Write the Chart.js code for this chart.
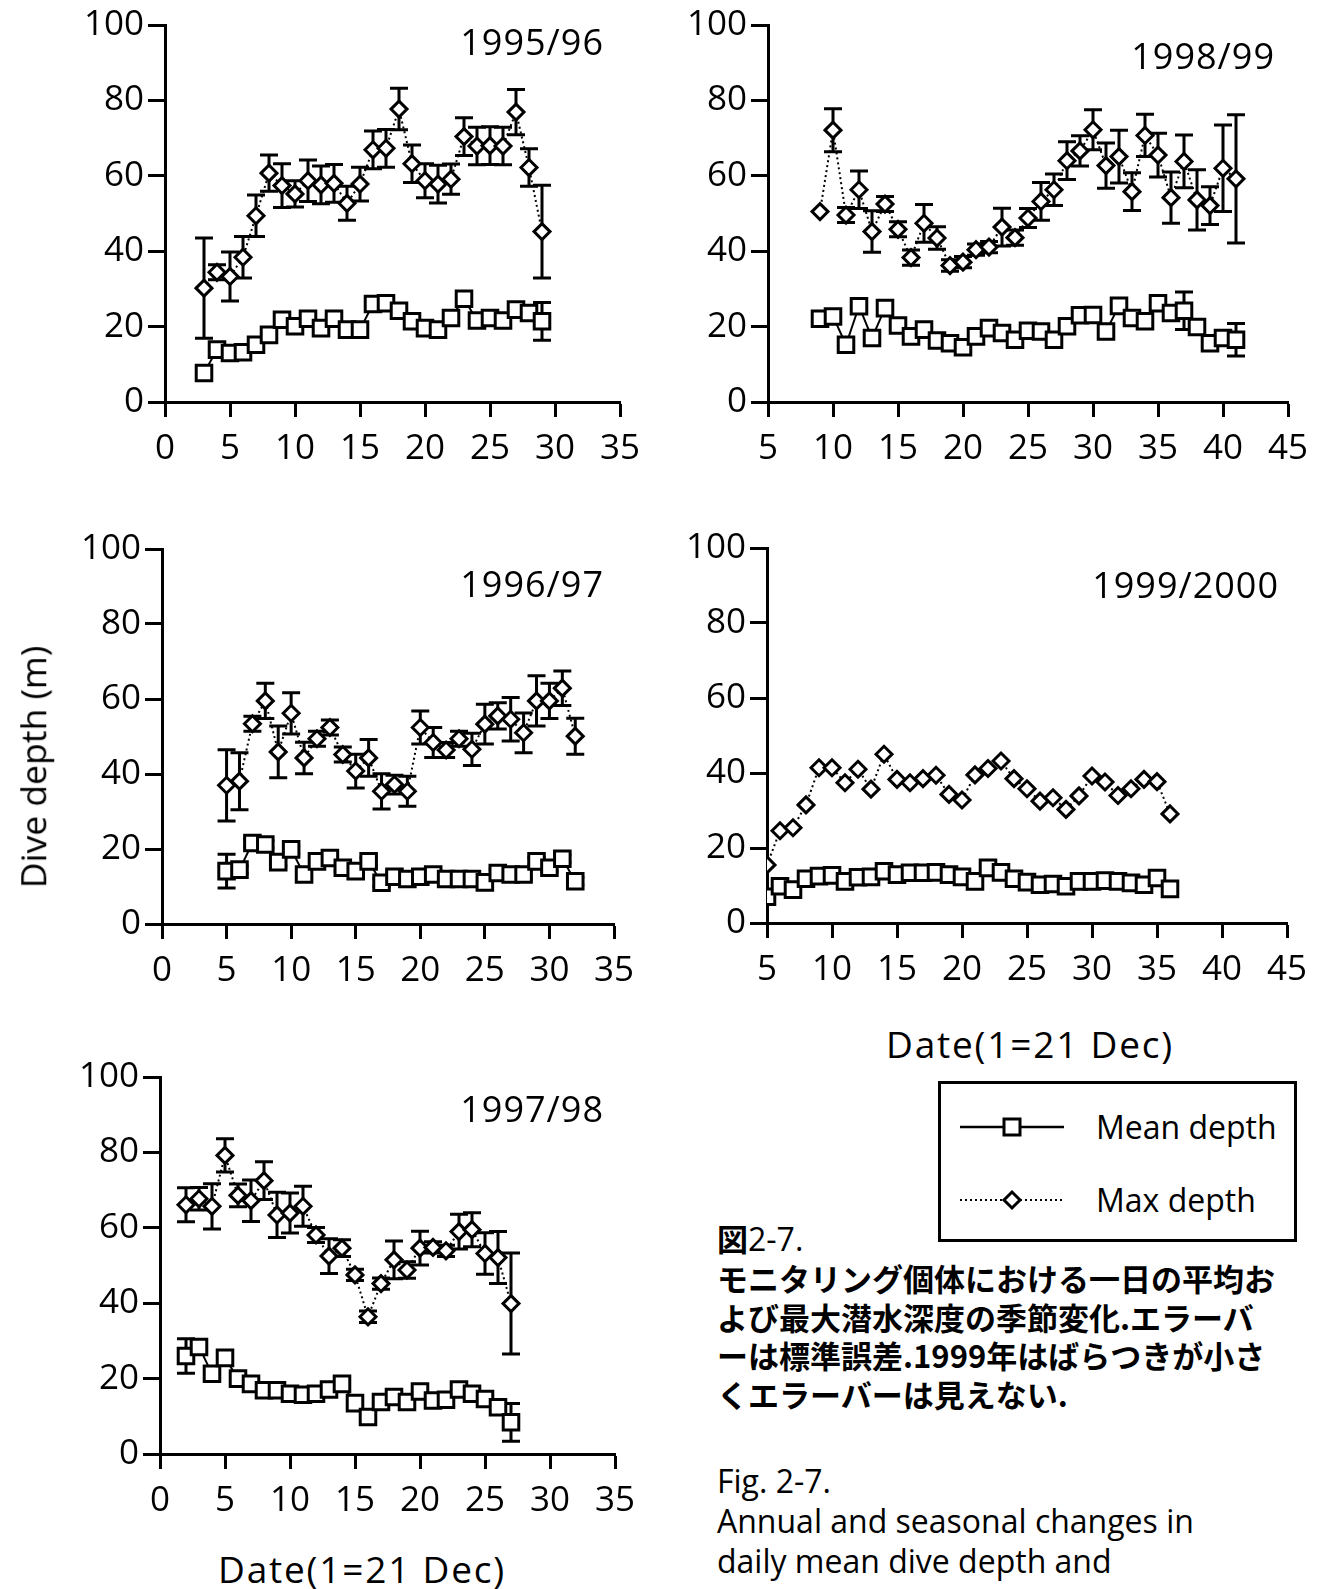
<!DOCTYPE html>
<html>
<head>
<meta charset="utf-8">
<script src="https://cdn.jsdelivr.net/npm/chart.js@4.4.1/dist/chart.umd.min.js"></script>
<style>
  html, body { margin: 0; padding: 0; background: #fff; }
  body { width: 1322px; height: 1589px; position: relative; overflow: hidden; font-family: 'Open Sans', 'Noto Sans', sans-serif; color: #000; }
  canvas { position: absolute; }
  .t { position: absolute; white-space: nowrap; line-height: 1; }
  .yr { font-size: 36px; letter-spacing: 1px; transform: translateY(-50%); }
  .axt { font-size: 37px; letter-spacing: 1.8px; transform: translate(-50%, -50%); }
  .cap { position: absolute; left: 717px; font-size: 31px; line-height: 38.5px; white-space: nowrap; }
  .jp { font-family: 'Noto Sans CJK JP', sans-serif; font-weight: 700; }
  .lat { font-family: 'Open Sans', 'Noto Sans', sans-serif; font-weight: 400; font-size: 32px; }
</style>
</head>
<body>

<canvas id="c1"></canvas>
<canvas id="c2"></canvas>
<canvas id="c3"></canvas>
<canvas id="c4"></canvas>
<canvas id="c5"></canvas>

<div class="t yr" style="right:718px; top:42px;">1995/96</div>
<div class="t yr" style="right:47px; top:56px;">1998/99</div>
<div class="t yr" style="right:718px; top:584px;">1996/97</div>
<div class="t yr" style="right:43px; top:585px;">1999/2000</div>
<div class="t yr" style="right:718px; top:1109px;">1997/98</div>

<div class="t" style="left:33px; top:767px; font-size:35.5px; transform: translate(-50%, -50%) rotate(-90deg);">Dive depth (m)</div>
<div class="t axt" style="left:1030px; top:1043px;">Date(1=21 Dec)</div>
<div class="t axt" style="left:362px; top:1568px;">Date(1=21 Dec)</div>

<!-- legend -->
<div style="position:absolute; left:938px; top:1081px; width:353px; height:155px; border:3px solid #000;"></div>
<svg style="position:absolute; left:938px; top:1081px;" width="360" height="162">
  <line x1="22" y1="46" x2="126" y2="46" stroke="#000" stroke-width="2.5"/>
  <rect x="66" y="38" width="16" height="16" fill="#fff" stroke="#000" stroke-width="3"/>
  <line x1="22" y1="119" x2="126" y2="119" stroke="#000" stroke-width="2" stroke-dasharray="2 3"/>
  <polygon points="74,111 82,119 74,127 66,119" fill="#fff" stroke="#000" stroke-width="3"/>
</svg>
<div class="t" style="left:1096px; top:1127px; font-size:32px; transform: translateY(-50%);">Mean depth</div>
<div class="t" style="left:1096px; top:1200px; font-size:32px; transform: translateY(-50%);">Max depth</div>

<!-- caption -->
<div class="cap jp" style="top:1219px;">図<span class="lat">2-7.</span></div>
<div class="cap jp" style="top:1259px;">モニタリング個体における一日の平均お<br>よび最大潜水深度の季節変化.エラーバ<br>ーは標準誤差.1999年はばらつきが小さ<br>くエラーバーは見えない.</div>
<div class="cap" style="top:1462px; font-size:32px;">Fig. 2-7.</div>
<div class="cap" style="top:1501px; font-size:32px; line-height:40px;">Annual and seasonal changes in<br>daily mean dive depth and</div>

<script>
// Day index (1 = 21 Dec) for each season
const days9596 = [3,4,5,6,7,8,9,10,11,12,13,14,15,16,17,18,19,20,21,22,23,24,25,26,27,28,29];
const mean9596 = [7.7,13.9,13.0,13.2,15.2,17.8,21.8,20.1,22.1,19.6,22.1,19.2,19.2,26.0,26.2,24.2,21.4,19.6,19.2,22.3,27.4,21.6,22.3,21.6,24.5,23.6,21.4];
const meanSe9596 = [1.5,1.5,1.5,1.5,1.5,1.5,1.5,1.5,1.5,1.5,1.5,1.5,1.5,1.5,1.5,1.5,1.5,1.5,1.5,1.5,1.5,1.5,1.5,1.5,1.5,1.5,5.0];
const max9596 = [30.2,34.4,33.3,38.4,49.4,60.7,57.4,55.2,58.7,57.6,58.0,52.7,57.8,66.9,67.3,77.7,63.2,58.7,57.8,59.1,70.4,67.9,68.0,67.9,76.9,62.2,45.2];
const maxSe9596 = [13.3,2,6.5,5.5,5.5,4.8,5.8,3.5,5.5,5,5,4.5,4.5,5,5,5.5,5,4.5,5,4,5,5,5,5,6,5,12.3];

const days9899 = [9,10,11,12,13,14,15,16,17,18,19,20,21,22,23,24,25,26,27,28,29,30,31,32,33,34,35,36,37,38,39,40,41];
const mean9899 = [22.1,22.7,15.2,25.4,17.0,24.9,20.3,17.4,19.2,16.3,15.6,14.5,17.4,19.6,18.3,16.5,18.9,18.7,16.5,20.1,23.0,23.1,18.7,25.5,22.3,21.4,26.2,23.6,24.2,19.9,15.6,17.0,16.5];
const meanSe9899 = [1.5,1.5,1.5,1.5,1.5,1.5,1.5,1.5,1.5,1.5,1.5,1.5,1.5,1.5,1.5,1.5,1.5,1.5,1.5,1.5,1.5,1.5,1.5,1.5,1.5,1.5,1.5,1.5,5.0,1.5,1.5,1.5,4.3];
const max9899 = [50.5,72.1,49.6,56.3,45.2,52.5,45.8,38.3,47.4,43.5,36.2,37.1,40.4,41.1,46.4,43.6,48.8,53.2,56.3,64.0,66.6,72.2,62.7,65.1,55.8,70.7,65.5,54.2,63.8,53.6,52.1,62.0,59.2];
const maxSe9899 = [0,5.7,2,5,5.5,2,2,2,5,3,1.5,1.5,1.5,1.5,5,2,2.5,5,4.2,5,4,5.3,6,7,5,5.6,5.8,6.8,7,8,5,11.5,17];

const days9697 = [5,6,7,8,9,10,11,12,13,14,15,16,17,18,19,20,21,22,23,24,25,26,27,28,29,30,31,32];
const mean9697 = [14.1,14.5,21.6,21.2,16.5,19.9,13.2,16.7,17.6,15.0,14.1,16.7,11.0,12.6,12.0,12.6,13.2,12.0,12.0,12.0,11.1,13.6,13.2,13.2,16.7,15.0,17.4,11.4];
const meanSe9697 = [4.5,1,1,1,1,1,1,1,1,1,1,1,1,1,1,1,1,1,1,1,1,1,1,1,1,1,1,1];
const max9697 = [37.0,38.1,53.4,59.5,45.9,56.2,44.3,49.4,52.4,45.2,40.8,44.3,35.4,37.2,35.4,52.4,48.4,46.4,49.4,46.6,53.3,55.5,54.6,51.0,59.5,59.5,62.9,50.1];
const maxSe9697 = [9.5,7.6,2,4.7,6.9,5.5,4.2,2,2,2,4.5,4.9,4.7,2.5,4,4.4,4,2,2,4.3,5.3,3.5,5.8,5.3,6.7,4.7,4.6,4.8];

const days9900 = [5,6,7,8,9,10,11,12,13,14,15,16,17,18,19,20,21,22,23,24,25,26,27,28,29,30,31,32,33,34,35,36];
const mean9900 = [7.0,9.8,8.9,11.8,12.5,12.7,11.1,12.2,12.3,13.8,12.9,13.4,13.4,13.5,12.9,12.3,11.1,14.7,13.5,11.8,10.9,10.2,10.4,9.8,11.1,11.1,11.3,11.1,10.7,10.2,12.0,9.1];
const max9900 = [15.5,24.6,25.4,31.5,41.4,41.4,37.4,41.0,35.7,45.0,38.3,37.4,38.5,39.4,34.3,32.8,39.5,41.2,43.2,38.5,35.8,32.5,33.4,30.3,33.9,39.2,37.6,34.0,35.8,38.3,37.7,29.1];

const days9798 = [2,3,4,5,6,7,8,9,10,11,12,13,14,15,16,17,18,19,20,21,22,23,24,25,26,27];
const mean9798 = [26.0,28.4,21.3,25.5,20.0,18.6,16.9,16.9,16.0,15.7,16.0,17.1,18.6,13.5,9.8,13.8,15.1,13.8,16.6,14.2,14.4,17.1,16.0,14.6,12.4,8.4];
const meanSe9798 = [4.6,2,1,1,1,1,1,1,1,1,1,1,1,1,1,1,1,1,1,1,1,1,1,1,1,5];
const max9798 = [66.1,67.7,65.7,79.2,68.6,67.2,72.5,63.4,63.9,65.7,58.1,52.5,54.6,47.5,36.4,45.2,51.5,48.8,54.6,54.8,53.9,59.0,59.5,53.2,52.1,39.9];
const maxSe9798 = [4.5,3,6,4.4,3,5.5,5,6,5.3,5.3,2,4.6,2.2,1.5,1.5,1.5,5,2.2,4.5,1.5,1.5,4.6,4.5,5.5,6.9,13.4];

const yTicks = [0, 20, 40, 60, 80, 100];

const FONT = { family: "'Open Sans', 'Noto Sans', sans-serif", size: 35 };

// Standard-error whiskers, drawn beneath the white-filled markers
const errorBars = {
  id: 'errorBars',
  beforeDatasetsDraw(chart) {
    const { ctx } = chart;
    const xs = chart.scales.x, ys = chart.scales.y;
    ctx.save();
    ctx.strokeStyle = '#000';
    ctx.lineWidth = 3;
    ctx.lineCap = 'butt';
    chart.data.datasets.forEach(ds => {
      if (!ds.se) return;
      ds.data.forEach((p, i) => {
        const e = ds.se[i];
        if (!e) return;
        const px = xs.getPixelForValue(p.x);
        const top = ys.getPixelForValue(p.y + e);
        const bot = ys.getPixelForValue(p.y - e);
        const cap = 9;
        ctx.beginPath();
        ctx.moveTo(px, top); ctx.lineTo(px, bot);
        ctx.moveTo(px - cap, top); ctx.lineTo(px + cap, top);
        ctx.moveTo(px - cap, bot); ctx.lineTo(px + cap, bot);
        ctx.stroke();
      });
    });
    ctx.restore();
  }
};

function pts(days, vals) { return days.map((d, i) => ({ x: d, y: vals[i] })); }

function panel(id, cfg) {
  const cv = document.getElementById(id);
  const cx = cfg.plotL - 150, cy = cfg.plotT - 30;
  const cw = cfg.plotR - cx + 45, ch = cfg.plotB - cy + 78;
  cv.width = cw; cv.height = ch;
  cv.style.left = cx + 'px'; cv.style.top = cy + 'px';
  cv.style.width = cw + 'px'; cv.style.height = ch + 'px';

  const datasets = [
    {
      data: pts(cfg.days, cfg.max), se: cfg.maxSe,
      borderColor: '#000', borderWidth: 2, borderDash: [2, 3],
      pointStyle: 'rectRot', pointRadius: 8, pointBorderWidth: 3,
      pointBackgroundColor: '#fff', pointBorderColor: '#000', tension: 0
    },
    {
      data: pts(cfg.days, cfg.mean), se: cfg.meanSe,
      borderColor: '#000', borderWidth: 2,
      pointStyle: 'rect', pointRadius: 11, pointBorderWidth: 3,
      pointBackgroundColor: '#fff', pointBorderColor: '#000', tension: 0
    }
  ];

  new Chart(cv, {
    type: 'line',
    data: { datasets },
    plugins: [errorBars],
    options: {
      responsive: false, animation: false, events: [],
      devicePixelRatio: 1,
      layout: { padding: { top: cfg.plotT - cy, right: cx + cw - cfg.plotR, bottom: 0, left: 0 } },
      plugins: { legend: { display: false }, tooltip: { enabled: false } },
      scales: {
        x: {
          type: 'linear', min: cfg.xMin, max: cfg.xMax,
          ticks: { stepSize: 5, color: '#000', font: FONT, padding: 11, maxRotation: 0, autoSkip: false },
          grid: { drawOnChartArea: false, drawTicks: true, tickLength: 15, tickWidth: 3, tickColor: '#000' },
          border: { display: true, color: '#000', width: 3 },
          afterFit(s) { s.height = cy + ch - cfg.plotB; }
        },
        y: {
          type: 'linear', min: 0, max: 100,
          afterBuildTicks(s) { s.ticks = yTicks.map(v => ({ value: v })); },
          ticks: { color: '#000', font: FONT, padding: 4 },
          grid: { drawOnChartArea: false, drawTicks: true, tickLength: 17, tickWidth: 3, tickColor: '#000' },
          border: { display: true, color: '#000', width: 3 },
          afterFit(s) { s.width = cfg.plotL - cx; }
        }
      }
    }
  });
}

panel('c1', { plotL: 165, plotT: 25, plotR: 620, plotB: 402, xMin: 0, xMax: 35,
  days: days9596, mean: mean9596, meanSe: meanSe9596, max: max9596, maxSe: maxSe9596 });
panel('c2', { plotL: 768, plotT: 25, plotR: 1288, plotB: 402, xMin: 5, xMax: 45,
  days: days9899, mean: mean9899, meanSe: meanSe9899, max: max9899, maxSe: maxSe9899 });
panel('c3', { plotL: 162, plotT: 549, plotR: 614, plotB: 924, xMin: 0, xMax: 35,
  days: days9697, mean: mean9697, meanSe: meanSe9697, max: max9697, maxSe: maxSe9697 });
panel('c4', { plotL: 767, plotT: 548, plotR: 1287, plotB: 923, xMin: 5, xMax: 45,
  days: days9900, mean: mean9900, meanSe: null, max: max9900, maxSe: null });
panel('c5', { plotL: 160, plotT: 1077, plotR: 615, plotB: 1454, xMin: 0, xMax: 35,
  days: days9798, mean: mean9798, meanSe: meanSe9798, max: max9798, maxSe: maxSe9798 });
</script>
</body>
</html>
